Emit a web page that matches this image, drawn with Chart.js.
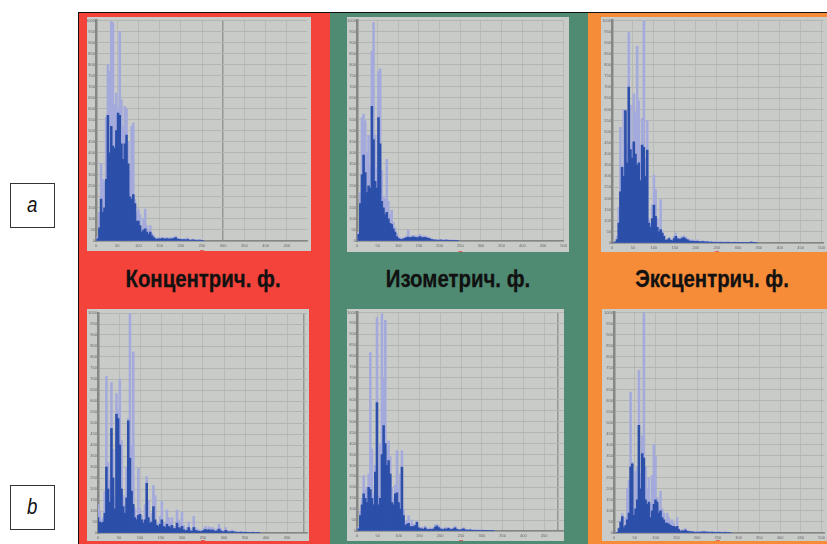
<!DOCTYPE html>
<html lang="ru">
<head>
<meta charset="utf-8">
<title>Гистограммы</title>
<script src="https://cdn.jsdelivr.net/npm/chart.js@4"></script>
<style>
  html, body { margin: 0; padding: 0; background: #fff; }
  body { position: relative; width: 827px; height: 544px; overflow: hidden; font-family: "Liberation Sans", sans-serif; }
  .band { position: absolute; top: 13px; height: 531px; }
  .frame { position: absolute; left: 78px; top: 12px; width: 749px; height: 532px; border-top: 1px solid #111; border-left: 1px solid #111; box-sizing: border-box; }
  .box { position: absolute; background: #c9cbc9; }
  .box canvas { filter: blur(0.7px); }
  .title { position: absolute; top: 265px; width: 240px; text-align: center; font-size: 24px; font-weight: bold; color: #111; transform: scaleX(0.85); -webkit-text-stroke: 0.3px #111; }
  .tag { position: absolute; left: 10px; width: 45px; height: 45px; box-sizing: border-box; border: 1px solid #333; background: #fff; text-align: center; line-height: 42px; font-size: 22px; font-style: italic; color: #111; }
  .tag span { display: inline-block; transform: scaleX(0.85); }
</style>
</head>
<body>
<div class="band" style="left:78px;width:252px;background:#f4433a"></div>
<div class="band" style="left:330px;width:258px;background:#4f8a72"></div>
<div class="band" style="left:588px;width:239px;background:#f68b38"></div>
<div class="frame"></div>
<div class="title" style="left:83px">Концентрич. ф.</div>
<div class="title" style="left:338px">Изометрич. ф.</div>
<div class="title" style="left:592px">Эксцентрич. ф.</div>
<div class="tag" style="top:183px"><span>a</span></div>
<div class="tag" style="top:485px"><span>b</span></div>

<script>
// histogram values, one bin = binWidth units on the x axis
const binWidth = 4;
const yTicksMax = 1000;

const concA_peak = [0,20,130,350,280,270,560,800,770,995,990,620,670,600,950,640,520,610,600,450,320,520,535,190,130,145,120,60,100,145,70,50,70,35,25,15,12,16,14,18,15,14,17,13,16,15,18,22,14,12,10,9,12,8,14,7,6,9,7,6,5,7,4,3];
const concA_body = [0,10,60,190,130,150,280,570,400,520,430,420,500,580,570,440,370,440,480,350,200,190,210,170,90,90,70,40,50,55,40,30,40,25,15,10,8,10,9,12,10,9,11,8,10,9,12,15,9,8,6,5,7,4,8,4,3,5,4,3,3,4,2,2];

const isoA_peak = [0,40,220,560,575,545,400,480,340,860,990,480,330,770,780,320,200,190,370,180,120,140,85,60,35,20,15,12,14,18,22,50,20,24,26,24,22,20,30,24,22,24,20,18,16,12,8,6,7,5,6,7,6,5,6,5,4,5,4,4,3,3];
const isoA_body = [0,30,170,300,390,310,220,250,240,610,460,270,240,560,440,180,150,120,130,100,80,75,55,40,20,12,8,7,9,12,15,18,14,17,19,17,15,14,20,16,15,17,14,12,10,7,5,4,4,3,4,4,3,3,4,3,2,3,2,2,2,2];

const eccA_peak = [0,0,5,30,160,520,350,600,590,440,945,620,440,670,590,885,640,440,560,998,380,550,110,90,170,305,240,110,70,195,55,35,15,18,25,16,14,30,45,28,22,26,30,32,26,20,16,12,14,10,12,14,9,8,10,9,7,8,6,7,6,5,6,4,5,6,5,4,4,6,4,3,3,5,3,3,2,2,3,2,2,2,3,8,3,2,2];
const eccA_body = [0,0,5,15,90,230,340,300,595,360,700,420,380,455,400,350,360,280,440,430,300,417,90,70,110,170,120,70,50,60,45,30,12,14,20,12,10,20,30,20,16,18,22,24,18,14,10,8,9,6,7,8,5,5,6,5,4,5,3,4,3,3,3,2,3,3,3,2,2,3,2,2,2,3,2,2,1,1,2,1,1,1,2,4,2,1,1];

const concB_peak = [130,100,60,70,190,712,320,240,684,380,170,634,560,700,420,170,130,300,520,997,400,823,110,80,295,110,80,60,130,257,150,60,90,216,170,45,40,75,143,50,30,105,70,50,70,30,30,105,60,45,95,35,20,25,50,20,15,75,25,18,15,12,14,22,30,20,28,22,26,20,14,18,40,20,12,10,25,12,10,9,14,8,7,6,5,7,5,5,6,4,4,3,5,3,3,2,3];
const concB_body = [70,50,45,50,90,300,200,140,475,250,110,540,520,400,200,120,90,160,510,340,190,130,70,60,80,85,60,45,60,226,70,45,50,120,60,35,30,40,60,30,25,40,30,25,35,20,20,45,25,20,30,15,10,12,25,10,8,25,12,9,8,7,8,12,16,12,15,12,14,10,8,10,18,10,6,5,12,6,5,5,7,4,4,3,3,4,3,3,3,2,2,2,3,2,2,1,2];

const isoB_peak = [0,20,90,150,254,190,200,260,816,375,170,300,976,160,400,994,700,964,370,413,340,200,150,210,368,200,260,368,100,40,45,71,30,50,30,30,45,22,16,18,14,22,12,10,14,12,14,28,30,25,18,12,10,16,14,18,12,10,16,22,12,8,7,12,16,8,7,6,9,6,5,6,5,4,5,4,4,3,3,3,3,2,2];
const isoB_body = [0,10,70,120,170,150,130,200,190,150,120,270,588,120,150,350,482,400,300,322,260,130,120,170,175,130,100,292,70,25,30,35,20,20,20,25,40,15,10,10,8,14,7,6,8,7,9,18,22,16,10,7,6,10,8,12,7,6,10,14,7,5,4,7,10,5,4,3,5,3,3,3,3,2,3,2,2,2,2,2,2,1,1];

const eccB_peak = [0,0,3,25,60,88,30,70,200,240,639,320,110,280,300,737,270,440,1000,300,200,250,130,260,402,350,160,120,190,110,90,60,90,70,55,60,45,30,70,20,12,15,14,20,12,10,9,8,6,5,6,5,6,7,8,6,7,6,5,6,5,4,5,6,4,4,3,6,3,2,2];
const eccB_body = [0,0,3,20,50,75,25,35,60,90,300,314,80,110,150,488,200,360,340,150,130,140,70,100,130,150,140,90,100,70,60,45,45,40,35,30,30,25,30,15,8,10,9,13,8,6,5,5,4,3,4,3,4,4,5,4,4,3,3,4,3,2,3,3,2,2,2,3,2,1,1];

const xTickValues = [0,50,100,150,200,250,300,350,400,450,500];
const yTickLabels = ['0','50','100','150','200','250','300','350','400','450','500','550','600','650','700','750','800','850','900','950','1000'];

const panels = [
  { id: 'a1', peak: concA_peak, body: concA_body, box: [87, 17, 224, 234], axis: [96, 18, 307, 241], step: 21.2, mark: 300 },
  { id: 'a2', peak: isoA_peak,  body: isoA_body,  box: [347, 17, 222, 235], axis: [357, 18, 568, 241], step: 21.1 },
  { id: 'a3', peak: eccA_peak,  body: eccA_body,  box: [601, 17, 226, 235], axis: [612, 19, 827, 243], step: 21.3 },
  { id: 'b1', peak: concB_peak, body: concB_body, box: [87, 309, 222, 232], axis: [98, 313, 307, 533], step: 21, mark: 490 },
  { id: 'b2', peak: isoB_peak,  body: isoB_body,  box: [347, 309, 217, 232], axis: [357, 312, 564, 531], step: 20.8, mark: 483 },
  { id: 'b3', peak: eccB_peak,  body: eccB_body,  box: [602, 309, 225, 232], axis: [614, 312, 827, 533], step: 21 }
];

// little red marker under the axis, the capture software puts it at 250
const redMark = {
  id: 'redMark',
  afterDraw(chart) {
    const x = chart.scales.x.getPixelForValue(250);
    const ctx = chart.ctx;
    ctx.save();
    ctx.fillStyle = '#e0605a';
    ctx.fillRect(x - 2, chart.scales.x.bottom - 1, 4, 1.5);
    ctx.restore();
  }
};

function toBins(values) {
  return values.map((v, i) => ({ x: i * binWidth, y: v }));
}

panels.forEach(p => {
  const [bx, by, bw, bh] = p.box;
  const [ax, at, ar, ab] = p.axis;
  const xMax = (ar - ax) / p.step * 50;

  const holder = document.createElement('div');
  holder.className = 'box';
  holder.style.cssText = `left:${bx}px;top:${by}px;width:${bw}px;height:${bh}px`;
  const canvas = document.createElement('canvas');
  canvas.id = p.id;
  holder.appendChild(canvas);
  document.body.appendChild(holder);

  new Chart(canvas, {
    type: 'bar',
    data: {
      datasets: [
        { data: toBins(p.body), backgroundColor: '#2c4fa9', barThickness: 1.9, grouped: false, order: 1 },
        { data: toBins(p.peak), backgroundColor: '#a4aadb', barThickness: 1.9, grouped: false, order: 2 }
      ]
    },
    options: {
      responsive: true,
      maintainAspectRatio: false,
      animation: false,
      layout: { padding: { top: at - by, right: bx + bw - ar, left: 0, bottom: 0 } },
      plugins: { legend: { display: false }, tooltip: { enabled: false } },
      scales: {
        x: {
          type: 'linear',
          offset: false,
          min: 0,
          max: xMax,
          afterFit: s => { s.height = by + bh - ab; },
          afterBuildTicks: s => {
            const vals = xTickValues.filter(v => v <= xMax);
            if (p.mark && !vals.includes(p.mark)) vals.push(p.mark);
            s.ticks = vals.map(v => ({ value: v }));
          },
          ticks: {
            autoSkip: false,
            maxRotation: 0,
            padding: 2,
            color: '#666',
            font: { size: 4 },
            callback: v => xTickValues.includes(v) ? String(v) : ''
          },
          grid: {
            offset: false,
            color: c => c.tick && c.tick.value === p.mark ? '#969896' : '#b8bab8',
            lineWidth: c => c.tick && c.tick.value === p.mark ? 1.5 : 1,
            drawTicks: false
          },
          border: { color: '#858785', width: 1.5 }
        },
        y: {
          min: 0,
          max: yTicksMax,
          afterFit: s => { s.width = ax - bx; },
          ticks: {
            stepSize: 50,
            autoSkip: false,
            padding: 1,
            color: '#666',
            font: { size: 4 },
            callback: (v, i) => yTickLabels[i]
          },
          grid: { color: '#b3b5b3', lineWidth: 1, drawTicks: false },
          border: { color: '#858785', width: 2.5 }
        }
      }
    },
    plugins: [redMark]
  });
});
</script>
</body>
</html>
